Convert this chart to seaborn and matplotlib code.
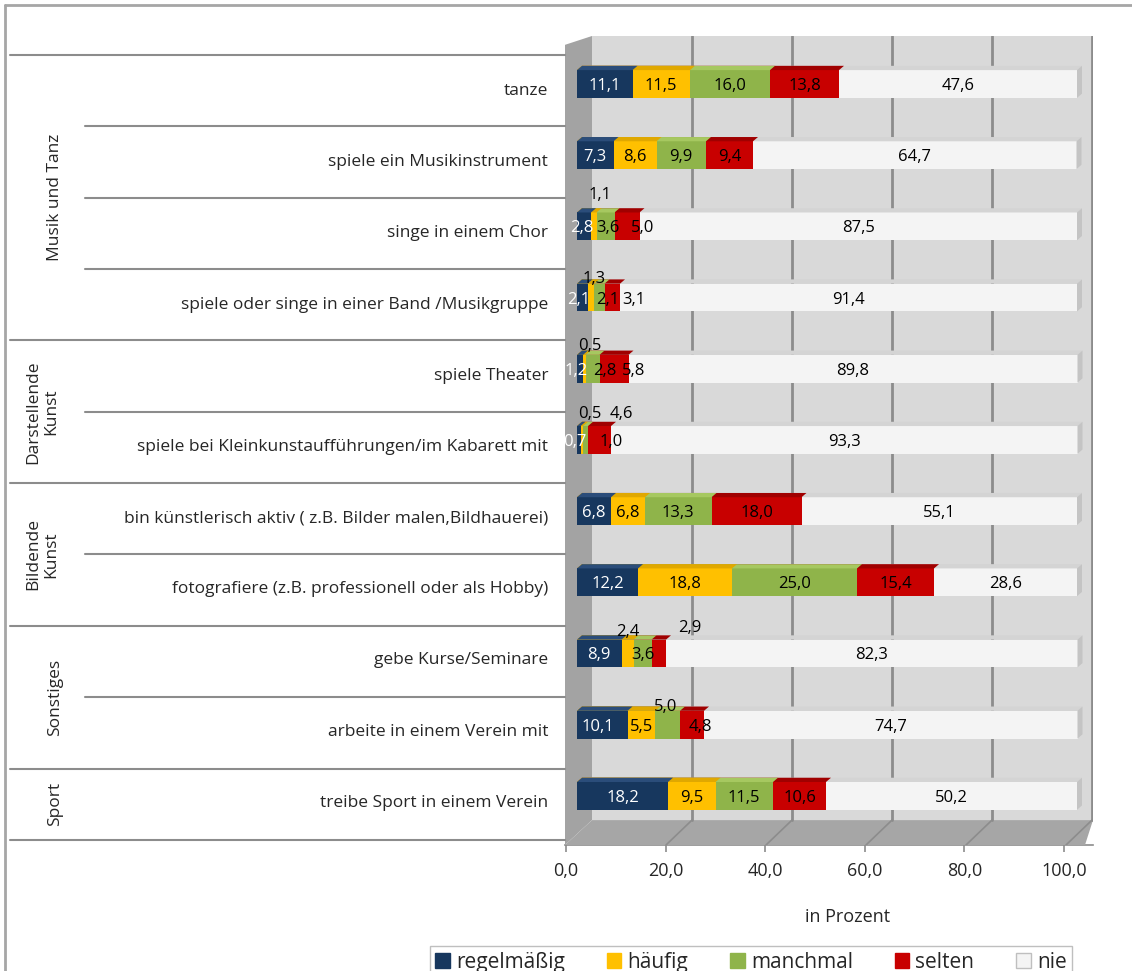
import pandas as pd
import matplotlib
matplotlib.use("Agg")
import matplotlib.pyplot as plt
from matplotlib.patches import Patch, Polygon, Rectangle
from matplotlib.lines import Line2D
from matplotlib.ticker import FuncFormatter
import seaborn as sns

# --- data -------------------------------------------------------------
activities = [
    "tanze",
    "spiele ein Musikinstrument",
    "singe in einem Chor",
    "spiele oder singe in einer Band /Musikgruppe",
    "spiele Theater",
    "spiele bei Kleinkunstaufführungen/im Kabarett mit",
    "bin künstlerisch aktiv ( z.B. Bilder malen,Bildhauerei)",
    "fotografiere (z.B. professionell oder als Hobby)",
    "gebe Kurse/Seminare",
    "arbeite in einem Verein mit",
    "treibe Sport in einem Verein",
]
groups = ["Musik und Tanz", "Darstellende\nKunst", "Bildende\nKunst", "Sonstiges", "Sport"]
group_sizes = [4, 2, 2, 2, 1]
series = ["regelmäßig", "häufig", "manchmal", "selten", "nie"]

regelmaessig = [11.1, 7.3, 2.8, 2.1, 1.2, 0.7, 6.8, 12.2, 8.9, 10.1, 18.2]
haeufig = [11.5, 8.6, 1.1, 1.3, 0.5, 0.5, 6.8, 18.8, 2.4, 5.5, 9.5]
manchmal = [16.0, 9.9, 3.6, 2.1, 2.8, 1.0, 13.3, 25.0, 3.6, 5.0, 11.5]
selten = [13.8, 9.4, 5.0, 3.1, 5.8, 4.6, 18.0, 15.4, 2.9, 4.8, 10.6]
nie = [47.6, 64.7, 87.5, 91.4, 89.8, 93.3, 55.1, 28.6, 82.3, 74.7, 50.2]
values = [regelmaessig, haeufig, manchmal, selten, nie]

colors = ["#17375e", "#ffc000", "#8fb44a", "#c80000", "#f4f4f4"]
top_colors = ["#2b4d7a", "#e0a800", "#a6c860", "#a00000", "#d4d4d4"]
label_colors = ["white", "black", "black", "black", "black"]

# label nudges (pixels) for crowded small segments: (row, series) -> (dx, dy)
nudges = {
    (2, 0): (-2, 0), (2, 1): (6, 33), (2, 2): (2, 0), (2, 3): (16, 0),
    (3, 0): (-4, 0), (3, 1): (3, 21), (3, 2): (8, 0), (3, 3): (22, 0),
    (4, 0): (-4, 0), (4, 1): (6, 25), (4, 2): (12, 0), (4, 3): (20, 0),
    (5, 0): (-4, 0), (5, 1): (8, 28), (5, 2): (26, 0), (5, 3): (22, 28),
    (8, 1): (0, 23), (8, 3): (31, 27),
    (9, 0): (-4, 0), (9, 2): (-2, 20), (9, 3): (8, 0),
}

# --- figure -----------------------------------------------------------
W, H = 1132, 971
sns.set_theme(style="white")
plt.rcParams["font.family"] = ["Open Sans", "DejaVu Sans"]

fig = plt.figure(figsize=(W / 100, H / 100), dpi=100)
ax = fig.add_axes([565 / W, 1 - 845 / H, (1093 - 565) / W, (845 - 36) / H])
ax.set_facecolor("white")

ytop, yfloor, ybot = -0.674, 10.34, 10.69
# back wall, side wall, floor
ax.add_patch(Rectangle((3, ytop), 100, yfloor - ytop, color="#d9d9d9", zorder=0, lw=0))
ax.add_patch(Polygon([(-2.4, -0.55), (3, ytop), (3, yfloor), (-2.4, ybot)],
                     closed=True, color="#a3a3a3", zorder=0.2, lw=0))
ax.add_patch(Polygon([(-2.4, ybot), (3, yfloor), (103.2, yfloor), (101.6, ybot)],
                     closed=True, color="#a6a6a6", zorder=0.2, lw=0))
for g in [20, 40, 60, 80, 100]:
    ax.plot([g + 3, g + 3], [ytop, yfloor], color="#8c8c8c", lw=2, zorder=0.5)
    ax.plot([g + 3, g - 2.2], [yfloor, ybot], color="#8c8c8c", lw=1.2, zorder=0.5)

# stacked bars: draw cumulative totals, largest first
bar_h = 0.39
d, th = 1.0, 0.06
for j in reversed(range(5)):
    cum = [sum(values[k][i] for k in range(j + 1)) for i in range(len(activities))]
    df = pd.DataFrame({"Tätigkeit": activities, "Wert": cum})
    n_before = len(ax.patches)
    sns.barplot(data=df, x="Wert", y="Tätigkeit", orient="h", color=colors[j],
                saturation=1, width=bar_h, errorbar=None, linewidth=0,
                zorder=2, ax=ax)
    for rect in ax.patches[n_before:]:
        x0, w, yt = rect.get_x(), rect.get_width(), rect.get_y()
        yb = yt + rect.get_height()
        ax.add_patch(Polygon([(x0, yt), (x0 + w, yt), (x0 + w + d, yt - th), (x0 + d, yt - th)],
                             closed=True, color=top_colors[j], lw=0, zorder=2))
        if j == 4:
            ax.add_patch(Polygon([(x0 + w, yt), (x0 + w + d, yt - th), (x0 + w + d, yb - th), (x0 + w, yb)],
                                 closed=True, color="#c4c4c4", lw=0, zorder=2))

# value labels
for i in range(len(activities)):
    start = 0.0
    for j in range(5):
        v = values[j][i]
        dx, dy = nudges.get((i, j), (0, 0))
        ax.annotate(f"{v:.1f}".replace(".", ","), xy=(start + v / 2, i),
                    xytext=(dx, dy - 2), textcoords="offset pixels",
                    ha="center", va="center", fontsize=12,
                    color=label_colors[j], zorder=5)
        start += v

ax.set_xlim(-2.4, 103.2)
ax.set_ylim(ybot, ytop)
ax.set_xlabel("")
ax.set_ylabel("")
ax.tick_params(axis="x", bottom=False, labelbottom=False)
ax.tick_params(axis="y", left=False, labelleft=False)
for s in ax.spines.values():
    s.set_visible(False)

# category labels
for i, name in enumerate(activities):
    ax.annotate(name, xy=(0, i), xycoords=("axes fraction", "data"),
                xytext=(-17, -7), textcoords="offset pixels",
                ha="right", va="center", fontsize=12.5)

# x axis along the floor front edge
sec = ax.secondary_xaxis("bottom", functions=(lambda x: (5 * x + 11) / 4.98,
                                              lambda v: (4.98 * v - 11) / 5))
sec.set_xticks([0, 20, 40, 60, 80, 100])
sec.xaxis.set_major_formatter(FuncFormatter(lambda v, _: f"{v:.1f}".replace(".", ",")))
sec.tick_params(length=5, color="#8c8c8c", width=1.2, labelsize=13, pad=7)
sec.spines["bottom"].set_color("#8c8c8c")
sec.spines["bottom"].set_linewidth(1.2)

fig.text(848 / W, 1 - 917 / H, "in Prozent", ha="center", va="center", fontsize=13)

# left table lines and group labels
line_c = "#8c8c8c"
row_lines = [55 + 71.35 * k for k in range(12)]
boundaries = {0, 4, 6, 8, 10, 11}
for k, y in enumerate(row_lines):
    x0 = 10 if k in boundaries else 85
    fig.add_artist(Line2D([x0 / W, 565 / W], [1 - y / H] * 2, color=line_c, lw=1.5))

start = 0
for g, n in zip(groups, group_sizes):
    yc = (row_lines[start] + row_lines[start + n]) / 2
    xc = 42 if "\n" in g else 55
    fig.text(xc / W, 1 - yc / H, g, rotation=90, ha="center", va="center",
             multialignment="center", fontsize=12.5)
    start += n

# outer frame
fig.add_artist(Line2D([5 / W, 5 / W], [0, 1 - 5 / H], color="#a6a6a6", lw=2))
fig.add_artist(Line2D([5 / W, 1], [1 - 5 / H] * 2, color="#a6a6a6", lw=2))

# legend
handles = [Patch(facecolor=c, edgecolor="#bfbfbf" if c == colors[4] else c) for c in colors]
fig.legend(handles, series, loc="upper center", bbox_to_anchor=(751 / W, 1 - 936 / H),
           ncol=5, frameon=True, fancybox=False, edgecolor="#bfbfbf", framealpha=1,
           fontsize=15, handlelength=0.7, handleheight=0.7, handletextpad=0.3,
           columnspacing=2.0, borderpad=0.25)

fig.savefig("out.png", dpi=100)
